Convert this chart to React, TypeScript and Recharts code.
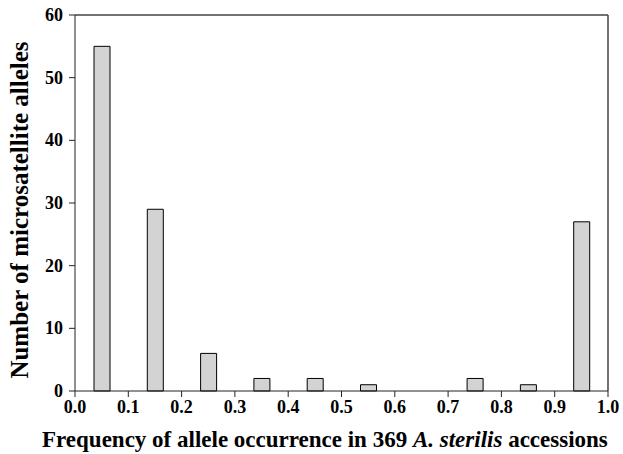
import { BarChart, Bar, XAxis, YAxis, ReferenceLine } from "recharts";

const freqBins = [0.05, 0.15, 0.25, 0.35, 0.45, 0.55, 0.65, 0.75, 0.85, 0.95];
const alleleCounts = [55, 29, 6, 2, 2, 1, 0, 2, 1, 27];
const xTicks = [0, 0.1, 0.2, 0.3, 0.4, 0.5, 0.6, 0.7, 0.8, 0.9, 1.0];
const yTicks = [0, 10, 20, 30, 40, 50, 60];

const data = freqBins.map((x, i) => ({ x, count: alleleCounts[i] }));

const font = "'Liberation Serif', 'Times New Roman', serif";

const XTick = ({ x, y, payload }: any) => (
  <text
    x={x}
    y={y + 14}
    textAnchor="middle"
    fontFamily={font}
    fontWeight="bold"
    fontSize={18}
    fill="#000"
  >
    {Number(payload.value).toFixed(1)}
  </text>
);

const YTick = ({ x, y, payload }: any) => (
  <text
    x={x - 2}
    y={y + 6}
    textAnchor="end"
    fontFamily={font}
    fontWeight="bold"
    fontSize={18}
    fill="#000"
  >
    {payload.value}
  </text>
);

export default function App() {
  return (
    <div style={{ position: "absolute", left: 0, top: 0, background: "#fff" }}>
      <BarChart
        width={623}
        height={454}
        data={data}
        margin={{ top: 15, right: 15, bottom: 0, left: 0 }}
      >
        <XAxis
          dataKey="x"
          type="number"
          domain={[0, 1]}
          ticks={xTicks}
          tick={<XTick />}
          tickSize={6}
          tickMargin={2}
          stroke="#222"
          height={63}
          label={{
            content: () => (
              <text
                x={42}
                y={447}
                fontFamily={font}
                fontWeight="bold"
                fontSize={23}
                fill="#000"
              >
                Frequency of allele occurrence in 369{" "}
                <tspan fontStyle="italic">A. sterilis</tspan> accessions
              </text>
            ),
          }}
        />
        <YAxis
          domain={[0, 60]}
          ticks={yTicks}
          tick={<YTick />}
          tickSize={6}
          tickMargin={4}
          stroke="#222"
          width={75}
          label={{
            content: () => (
              <text
                x={28}
                y={210}
                transform="rotate(-90 28 210)"
                textAnchor="middle"
                fontFamily={font}
                fontWeight="bold"
                fontSize={25}
                fill="#000"
              >
                Number of microsatellite alleles
              </text>
            ),
          }}
        />
        <ReferenceLine y={60} stroke="#444" strokeWidth={1.5} />
        <ReferenceLine x={1} stroke="#444" strokeWidth={1.5} />
        <Bar
          dataKey="count"
          fill="#d3d3d3"
          stroke="#000"
          strokeWidth={1}
          barSize={16}
          isAnimationActive={false}
        />
      </BarChart>
    </div>
  );
}
